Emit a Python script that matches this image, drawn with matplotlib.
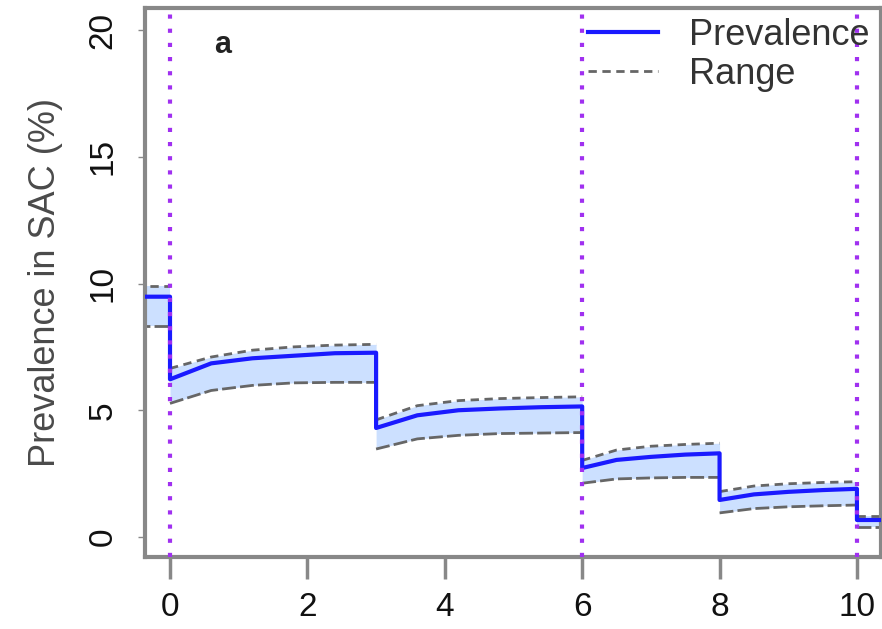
import numpy as np
import matplotlib.pyplot as plt

plt.rcParams['font.family'] = ['Liberation Sans', 'DejaVu Sans']

# model output, one block per period between treatment rounds (years)
t_pre = [-0.5, 0.0]
prev_pre = [9.48, 9.48]
upper_pre = [9.92, 9.92]
lower_pre = [8.32, 8.32]

t_a = [0.0, 0.6, 1.2, 1.8, 2.4, 3.0]
prev_a = [6.22, 6.85, 7.05, 7.15, 7.25, 7.27]
upper_a = [6.65, 7.10, 7.37, 7.50, 7.57, 7.60]
lower_a = [5.27, 5.78, 5.98, 6.08, 6.10, 6.10]

t_b = [3.0, 3.6, 4.2, 4.8, 5.4, 6.0]
prev_b = [4.30, 4.80, 5.00, 5.07, 5.12, 5.15]
upper_b = [4.62, 5.18, 5.38, 5.46, 5.50, 5.53]
lower_b = [3.47, 3.87, 4.01, 4.08, 4.10, 4.12]

t_c = [6.0, 6.5, 7.0, 7.5, 8.0]
prev_c = [2.72, 3.04, 3.16, 3.25, 3.30]
upper_c = [3.02, 3.43, 3.58, 3.65, 3.70]
lower_c = [2.12, 2.29, 2.33, 2.35, 2.35]

t_d = [8.0, 8.5, 9.0, 9.5, 10.0]
prev_d = [1.46, 1.68, 1.78, 1.85, 1.90]
upper_d = [1.79, 2.01, 2.10, 2.15, 2.18]
lower_d = [0.95, 1.12, 1.19, 1.23, 1.26]

t_e = [10.0, 10.5]
prev_e = [0.67, 0.67]
upper_e = [0.82, 0.82]
lower_e = [0.38, 0.38]

treatments = [0, 6, 10]

blocks = [
    (t_pre, prev_pre, upper_pre, lower_pre),
    (t_a, prev_a, upper_a, lower_a),
    (t_b, prev_b, upper_b, lower_b),
    (t_c, prev_c, upper_c, lower_c),
    (t_d, prev_d, upper_d, lower_d),
    (t_e, prev_e, upper_e, lower_e),
]

t_all = np.concatenate([b[0] for b in blocks])
prev_all = np.concatenate([b[1] for b in blocks])

fig = plt.figure(figsize=(8.82, 6.29), dpi=100)
ax = fig.add_axes([145 / 882, 72 / 629, 736 / 882, 549 / 629])

grey = '#666666'
for t, p, up, lo in blocks:
    ax.fill_between(t, lo, up, color='#cce0ff', lw=0, zorder=1)
    ax.plot(t, up, color=grey, lw=2, ls=(0, (3, 2)), zorder=2)
    ax.plot(t, lo, color=grey, lw=2, ls=(0, (5, 1.5)), zorder=2)

ax.plot(t_all, prev_all, color='#1a1aff', lw=3, zorder=3, label='Prevalence')
ax.plot([], [], color=grey, lw=2, ls=(0, (3, 2)), label='Range')

for x in treatments:
    ax.axvline(x, color='#a030f0', lw=3, ls=(0, (1, 2.4)), zorder=4)

ax.set_xlim(-0.364, 10.35)
ax.set_ylim(-0.79, 20.87)
ax.set_xticks([0, 2, 4, 6, 8, 10])
ax.set_yticks([0, 5, 10, 15, 20])

for s in ax.spines.values():
    s.set_color('#888888')
    s.set_linewidth(3)

ax.tick_params(axis='x', length=16, width=2.5, color='#888888', pad=9,
               labelsize=24, labelcolor='#111111')
ax.tick_params(axis='y', length=5, width=1, color='#888888', pad=14,
               labelsize=24, labelcolor='#111111', labelrotation=90)
for lab in ax.get_yticklabels():
    lab.set_va('center')

ax.set_ylabel('Prevalence in SAC (%)', fontsize=26, color='#4a4a4a')
ax.yaxis.set_label_coords(-0.111, 0.5)

ax.text(0.76, 19.4, 'a', fontsize=22, fontweight='bold', color='#222222',
        ha='center', va='center')

ax.legend(loc='upper left', bbox_to_anchor=(588 / 882, 1 - 18 / 629),
          bbox_transform=fig.transFigure, frameon=False, fontsize=26,
          handlelength=1.95, handletextpad=0.85, labelspacing=0.1,
          borderpad=0, borderaxespad=0, labelcolor='#333333')

fig.savefig('out.png', dpi=100)
